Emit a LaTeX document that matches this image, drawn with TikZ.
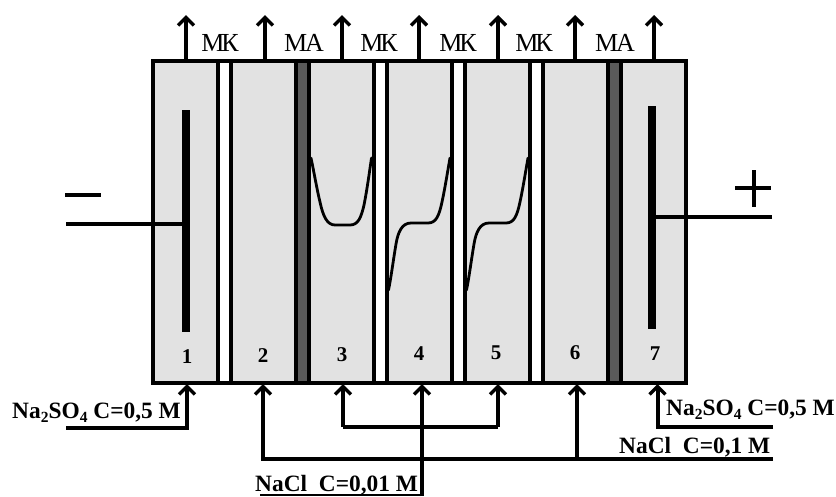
\documentclass[tikz,border=0pt]{standalone}
\usepackage{fontspec}
\setmainfont{Liberation Serif}
\usetikzlibrary{arrows.meta}
\definecolor{cellgray}{HTML}{E2E2E2}
\definecolor{magray}{HTML}{5A5A5A}
\tikzset{
  wire/.style={line width=4pt,line cap=butt},
  flow/.style={wire,-{Straight Barb[length=8pt,width=16pt,line width=3.4pt]}},
  memline/.style={line width=4pt},
  prof/.style={line width=2.8pt,line cap=round,line join=round},
  electrode/.style={draw=none,fill=black},
  memlabel/.style={font=\fontsize{26}{26}\selectfont,inner sep=0pt,anchor=base},
  numlabel/.style={font=\fontsize{21}{21}\selectfont\bfseries,inner sep=0pt,anchor=base},
  conc/.style={font=\fontsize{23.4}{23.4}\selectfont\bfseries,inner sep=0pt,anchor=base west},
}
\newcommand{\mk}{М\kern-3ptК}
\newcommand{\ma}{М\kern-2ptА}
\newcommand{\nasul}{Na\raisebox{-4.5pt}{\fontsize{15.5}{15.5}\selectfont 2}SO\raisebox{-4.5pt}{\fontsize{15.5}{15.5}\selectfont 4}}
\begin{document}
\begin{tikzpicture}[x=1pt,y=-1pt]
\useasboundingbox (0,0) rectangle (836,496);
% frame
\fill[cellgray] (152.5,61) rectangle (686,383);
\fill[white] (218,61) rectangle (230.5,383);
\fill[white] (373.7,61) rectangle (386.7,383);
\fill[white] (452,61) rectangle (464.7,383);
\fill[white] (530,61) rectangle (542.7,383);
\fill[magray] (296,61) rectangle (308.5,383);
\fill[magray] (608,61) rectangle (620.7,383);
\foreach \x in {218,230.5,296,308.5,373.7,386.7,452,464.7,530,542.7,608,620.7}
  \draw[memline] (\x,61) -- (\x,383);
\draw[line width=4pt] (152.5,61) rectangle (686,383);
% concentration profiles
\draw[prof] (311,158) .. controls (314,172) and (317,190) .. (320,202)
  .. controls (323,216) and (327,225) .. (335,225) -- (350,225)
  .. controls (358,225) and (361,218) .. (364,205)
  .. controls (367,190) and (369,175) .. (371.5,158);
\draw[prof] (388.5,290) .. controls (391,278) and (393,262) .. (396,244)
  .. controls (398,232) and (402,223) .. (411,223) -- (428,223)
  .. controls (436,223) and (439,216) .. (442,202)
  .. controls (445,188) and (447,175) .. (450,158);
\draw[prof] (466.5,290) .. controls (469,278) and (471,262) .. (474,244)
  .. controls (476,232) and (480,223) .. (489,223) -- (506,223)
  .. controls (514,223) and (517,216) .. (520,202)
  .. controls (523,188) and (525,175) .. (528,158);
% electrodes
\node[electrode,minimum width=8pt,minimum height=222pt,inner sep=0pt] (eL) at (186,221) {};
\node[electrode,minimum width=8pt,minimum height=223pt,inner sep=0pt] (eR) at (652.3,217.5) {};
\coordinate (wL) at (66,224);
\coordinate (wR) at (772,217);
\draw[wire] (wL) -- (wL -| eL);
\draw[wire] (wR) -- (wR -| eR);
\draw[wire] (65,195) -- (100.5,195);
\draw[wire] (735,188) -- (771,188);
\draw[wire] (754,170) -- (754,207);
% outlets
\foreach \n/\x in {a/186,b/265,c/342,d/419,e/498,f/575,g/654}{
  \coordinate (top\n) at (\x,61);
  \coordinate (out\n) at (\x,15);
  \draw[flow] (top\n) -- (out\n);
}
% membrane labels
\node[memlabel] (m1) at (220,51) {\mk};
\node[memlabel] (m2) at (304,51) {\ma};
\node[memlabel] (m3) at (379,51) {\mk};
\node[memlabel] (m4) at (458,51) {\mk};
\node[memlabel] (m5) at (534,51) {\mk};
\node[memlabel] (m6) at (615,51) {\ma};
% cell numbers
\node[numlabel] (n1) at (187,363) {1};
\node[numlabel] (n2) at (263,362) {2};
\node[numlabel] (n3) at (342,361) {3};
\node[numlabel] (n4) at (419,360) {4};
\node[numlabel] (n5) at (496,359) {5};
\node[numlabel] (n6) at (575,359) {6};
\node[numlabel] (n7) at (655,360) {7};
% inlets
\coordinate (in1) at (187,384);
\coordinate (in2) at (263,384);
\coordinate (in3) at (343,384);
\coordinate (in4) at (422,384);
\coordinate (in5) at (498,384);
\coordinate (in6) at (577,384);
\coordinate (in7) at (657.5,384);
\coordinate (s1) at (66,428);
\coordinate (s7) at (773,427);
\coordinate (s01) at (773,459);
\coordinate (s001) at (422,496);
\draw[flow] (s1) -- (s1 -| in1) -- (in1);
\draw[flow] (s7) -- (s7 -| in7) -- (in7);
\draw[flow] (s01) -- (s01 -| in2) -- (in2);
\draw[flow] (s01 -| in6) -- (in6);
\draw[flow] (in3 |- s7) -- (in3);
\draw[flow] (s7 -| in5) -- (in5);
\draw[wire] (in3 |- s7) -- (s7 -| in5);
\draw[flow] (s001) -- (in4);
% concentration labels
\node[conc] (c1) at (12,418) {\nasul{} C=0,5 M};
\node[conc] (c7) at (666,415) {\nasul{} C=0,5 M};
\node[conc] (c01) at (619,453) {NaCl\ \ C=0,1 M};
\node[conc] (c001) at (255,491) {NaCl\ \ C=0,01 M};
\draw[line width=2pt] (c001.base west)++(5,3.5) -- (423,494.5);
\end{tikzpicture}
\end{document}
